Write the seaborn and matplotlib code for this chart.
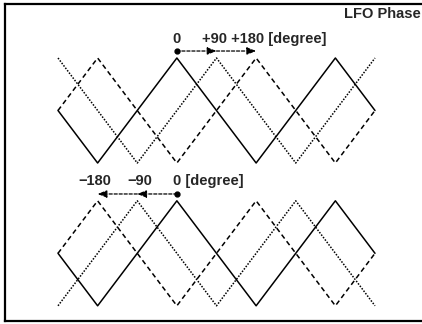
import pandas as pd
import matplotlib
matplotlib.use("Agg")
import matplotlib.pyplot as plt
import seaborn as sns

# vertices of the triangle waves, phase in degrees, value in amplitude units
t_solid = [0, 90, 270, 450, 630, 720]
y_solid = [0, -1, 1, -1, 1, 0]
t_dashed = [0, 90, 270, 450, 630, 720]
y_dashed = [0, 1, -1, 1, -1, 0]
t_dotted = [0, 180, 360, 540, 720]
y_dotted_top = [1, -1, 1, -1, 1]
y_dotted_bottom = [-1, 1, -1, 1, -1]

offset_top = 0.0
offset_bottom = -2.72

# arrow marks (degrees)
phase_start = 270
phase_plus = [360, 450]
phase_minus = [180, 90]

sns.set_theme(style="white")
plt.rcParams['font.family'] = ['Liberation Sans', 'DejaVu Sans']

fig = plt.figure(figsize=(4.22, 3.24), dpi=100)
W, H = 422, 324
ax = fig.add_axes([4.5 / W, 3 / H, (W - 4.5) / W, (H - 7) / H])

linhas = [
    (t_solid, y_solid, offset_top, '-'),
    (t_dashed, y_dashed, offset_top, (0, (3.2, 2.2))),
    (t_dotted, y_dotted_top, offset_top, (0, (1, 1))),
    (t_solid, y_solid, offset_bottom, '-'),
    (t_dashed, y_dashed, offset_bottom, (0, (3.2, 2.2))),
    (t_dotted, y_dotted_bottom, offset_bottom, (0, (1, 1))),
]
for t, y, off, ls in linhas:
    df = pd.DataFrame({'t': t, 'y': [v + off for v in y]})
    sns.lineplot(data=df, x='t', y='y', ax=ax, color='black', linewidth=1.1,
                 linestyle=ls, sort=False, estimator=None)

# escala: t=0 em x=58px, t=720 em x=375px
k = 720 / (375 - 58)
ax.set_xlim(-(58 - 4.5) * k, 720 + (W - 375) * k)
amp = 52.5
ax.set_ylim(-(321 - 110.5) / amp, (110.5 - 4) / amp)
ax.set_xticks([])
ax.set_yticks([])
ax.set_xlabel('')
ax.set_ylabel('')
for lado in ['left', 'top', 'bottom']:
    ax.spines[lado].set_color('black')
    ax.spines[lado].set_linewidth(1.6)
ax.spines['right'].set_visible(False)

seta = dict(arrowstyle='-|>,head_length=0.45,head_width=0.18', color='black',
            linestyle=(0, (2.5, 1.5)), linewidth=0.9, shrinkA=0, shrinkB=0)

# painel de cima
y_seta_top = 1.133
ax.plot([phase_start], [y_seta_top], 'o', color='black', markersize=3.5)
ax.annotate('', xy=(phase_plus[0], y_seta_top), xytext=(phase_start, y_seta_top), arrowprops=seta)
ax.annotate('', xy=(phase_plus[1], y_seta_top), xytext=(phase_plus[0], y_seta_top), arrowprops=seta)
y_txt_top = 1.29
ax.text(phase_start, y_txt_top, '0', ha='center', va='baseline', fontsize=10.5, fontweight='bold')
ax.text((202 - 58) * k, y_txt_top, '+90 +180 [degree]', ha='left', va='baseline',
        fontsize=10.5, fontweight='bold')

# painel de baixo
y_seta_bot = -1.59
ax.plot([phase_start], [y_seta_bot], 'o', color='black', markersize=3.5)
ax.annotate('', xy=(phase_minus[0], y_seta_bot), xytext=(phase_start, y_seta_bot), arrowprops=seta)
ax.annotate('', xy=(phase_minus[1], y_seta_bot), xytext=(phase_minus[0], y_seta_bot), arrowprops=seta)
y_txt_bot = -1.42
ax.text((95 - 58) * k, y_txt_bot, '\u2212180', ha='center', va='baseline', fontsize=10.5, fontweight='bold')
ax.text((140 - 58) * k, y_txt_bot, '\u221290', ha='center', va='baseline', fontsize=10.5, fontweight='bold')
ax.text((173 - 58) * k, y_txt_bot, '0 [degree]', ha='left', va='baseline', fontsize=10.5, fontweight='bold')

fig.text(421 / W, 1 - 18 / H, 'LFO Phase', ha='right', va='baseline', fontsize=10.5, fontweight='bold')

plt.savefig('out.png', dpi=100)
